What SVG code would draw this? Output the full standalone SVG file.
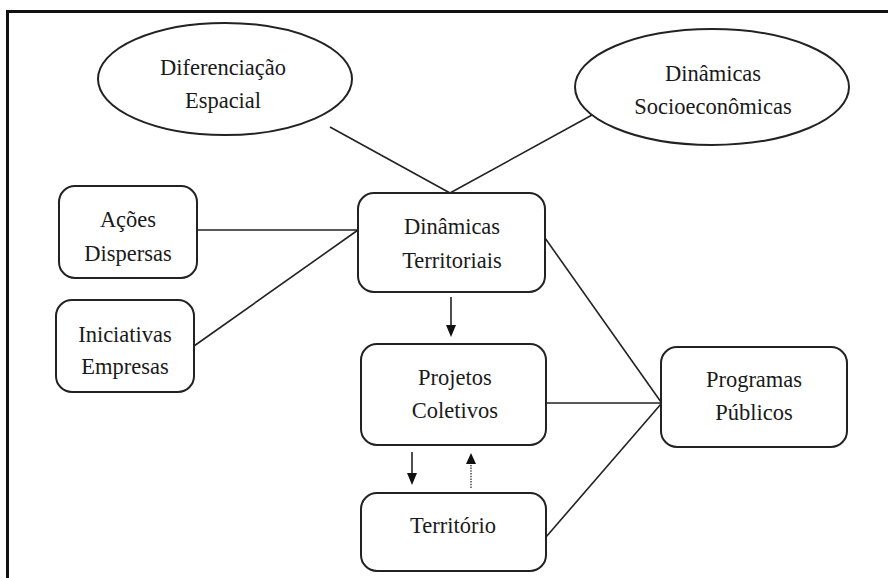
<svg xmlns="http://www.w3.org/2000/svg" width="888" height="578" viewBox="0 0 888 578">
<style>
.n{fill:#fff;stroke:#222;stroke-width:2}
.t{font-family:"Liberation Serif","Times New Roman",serif;font-size:22.5px;fill:#1a1a1a;text-anchor:middle}
.c{stroke:#222;stroke-width:1.6;fill:none}
.d{stroke:#444;stroke-width:1.4;stroke-dasharray:1.5 1.2;fill:none}
.h{fill:#111}
</style>
<rect width="888" height="578" fill="#fff"/>
<path d="M7.5,578 V11.5 H888" fill="none" stroke="#111" stroke-width="3"/>
<g id="connectors">
<line class="c" x1="330" y1="127" x2="450" y2="193"/>
<line class="c" x1="592" y1="115" x2="450" y2="193"/>
<line class="c" x1="197" y1="230" x2="358" y2="230"/>
<line class="c" x1="194" y1="346" x2="358" y2="230"/>
<line class="c" x1="545" y1="238" x2="661" y2="402"/>
<line class="c" x1="546" y1="403" x2="661" y2="403"/>
<line class="c" x1="546" y1="537" x2="661" y2="404"/>
<line class="c" x1="451" y1="297" x2="451" y2="326"/>
<path class="h" d="M446,325 L456,325 L451,337 Z"/>
<line class="c" x1="412" y1="452" x2="412" y2="474"/>
<path class="h" d="M407,473 L417,473 L412,485 Z"/>
<line class="d" x1="471" y1="488" x2="471" y2="462"/>
<path class="h" d="M466,464 L476,464 L471,453 Z"/>
</g>
<g id="diferenciacao">
<ellipse class="n" cx="225" cy="79" rx="127" ry="56"/>
<text class="t" x="223" y="75">Diferenciação</text>
<text class="t" x="223" y="108">Espacial</text>
</g>
<g id="socioeconomicas">
<ellipse class="n" cx="712" cy="87" rx="137" ry="58"/>
<text class="t" x="713" y="81">Dinâmicas</text>
<text class="t" x="713" y="114">Socioeconômicas</text>
</g>
<g id="dinamicas-territoriais">
<rect class="n" x="358" y="193" width="187" height="99" rx="16"/>
<text class="t" x="452" y="234">Dinâmicas</text>
<text class="t" x="452" y="268">Territoriais</text>
</g>
<g id="acoes">
<rect class="n" x="59" y="186" width="138" height="92" rx="16"/>
<text class="t" x="128" y="227">Ações</text>
<text class="t" x="128" y="261">Dispersas</text>
</g>
<g id="iniciativas">
<rect class="n" x="56" y="300" width="138" height="92" rx="16"/>
<text class="t" x="125" y="342">Iniciativas</text>
<text class="t" x="125" y="374">Empresas</text>
</g>
<g id="projetos">
<rect class="n" x="361" y="344" width="185" height="101" rx="16"/>
<text class="t" x="455" y="385">Projetos</text>
<text class="t" x="455" y="418">Coletivos</text>
</g>
<g id="territorio">
<rect class="n" x="361" y="493" width="185" height="78" rx="16"/>
<text class="t" x="453" y="533">Território</text>
</g>
<g id="programas">
<rect class="n" x="661" y="347" width="186" height="100" rx="16"/>
<text class="t" x="754" y="387">Programas</text>
<text class="t" x="754" y="420">Públicos</text>
</g>
</svg>
